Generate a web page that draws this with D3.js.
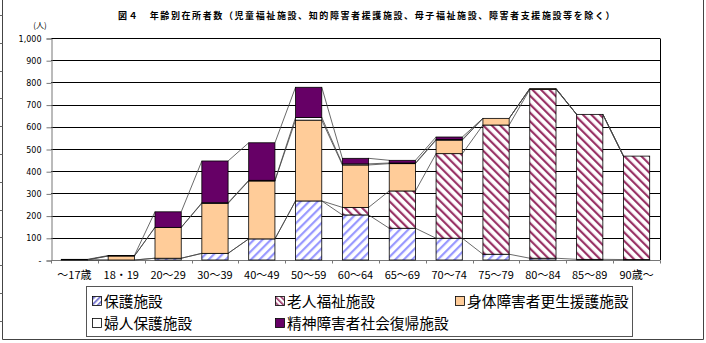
<!DOCTYPE html>
<html>
<head>
<meta charset="utf-8">
<script src="https://cdn.jsdelivr.net/npm/d3@7/dist/d3.min.js"></script>
<style>
  html, body { margin: 0; padding: 0; background: #fff; }
  svg { display: block; }
</style>
</head>
<body>
<script>
// Age groups and residents per facility type (persons)
const categories = ["～17歳","18・19","20～29","30～39","40～49","50～59","60～64","65～69","70～74","75～79","80～84","85～89","90歳～"];
const hogo    = [0, 0,   8,  30,  95, 266, 203, 143,  98,  26,   8,   3,   2];   // 保護施設
const roujin  = [0, 0,   0,   0,   0,   0,  34, 168, 381, 582, 760, 653, 466];   // 老人福祉施設
const shintai = [1, 18, 139, 225, 261, 364, 191, 123,  61,  30,   4,   0,   0];   // 身体障害者更生援護施設
const fujin   = [0, 0,   0,   3,   3,  12,   5,   3,   3,   0,   0,   0,   0];   // 婦人保護施設
const seishin = [2, 2,  70, 188, 169, 136,  25,  12,  11,   0,   0,   0,   0];   // 精神障害者社会復帰施設
const seriesNames = ["保護施設","老人福祉施設","身体障害者更生援護施設","婦人保護施設","精神障害者社会復帰施設"];
const yTicks = [0,100,200,300,400,500,600,700,800,900,1000];
const title = "図４　年齢別在所者数（児童福祉施設、知的障害者援護施設、母子福祉施設、障害者支援施設等を除く）";

const W = 706, H = 343;
const svg = d3.select("body").append("svg").attr("width", W).attr("height", H);

// hatch patterns
const defs = svg.append("defs");
function hatch(id, color, dir, size, lw) {
  const p = defs.append("pattern").attr("id", id).attr("patternUnits", "userSpaceOnUse")
    .attr("width", size).attr("height", size)
    .attr("patternTransform", `rotate(${dir})`);
  p.append("rect").attr("width", size).attr("height", size).attr("fill", "#fff");
  p.append("rect").attr("x", 0).attr("y", 0).attr("width", lw).attr("height", size).attr("fill", color);
}
hatch("hHogo", "#9999FF", 45, 6, 2.2);
hatch("hRoujin", "#993366", -45, 6, 2.2);
hatch("hHogoL", "#6666CC", 45, 4, 1.6);
hatch("hRoujinL", "#993366", -45, 4, 1.6);

const fills = ["url(#hHogo)", "url(#hRoujin)", "#FFCC99", "#FFFFFF", "#660066"];
const legendFills = ["url(#hHogoL)", "url(#hRoujinL)", "#FFCC99", "#FFFFFF", "#660066"];

// outer frame
const frame = svg.append("g");
frame.append("line").attr("x1", 2.5).attr("x2", 2.5).attr("y1", 0).attr("y2", 339.5).attr("stroke", "#444");
frame.append("line").attr("x1", 2.5).attr("x2", 703.5).attr("y1", 339.5).attr("y2", 339.5).attr("stroke", "#444");
frame.append("line").attr("x1", 703.5).attr("x2", 703.5).attr("y1", 0).attr("y2", 339.5).attr("stroke", "#444");
d3.range(15, 335, 27.8).forEach(v => {
  frame.append("line").attr("x1", 0).attr("x2", 2.5).attr("y1", Math.round(v) + 0.5).attr("y2", Math.round(v) + 0.5).attr("stroke", "#666");
});

const pLeft = 51, pRight = 660, pTop = 38, pBottom = 260;
const x = d3.scaleBand().domain(categories).range([pLeft, pRight]).paddingInner(0.44).paddingOuter(0.22);
const y = d3.scaleLinear().domain([0, 1000]).range([pBottom, pTop]);

// gridlines
svg.append("g").selectAll("line").data(yTicks.filter(d => d > 0)).join("line")
  .attr("x1", pLeft).attr("x2", pRight)
  .attr("y1", d => Math.round(y(d)) + 0.5).attr("y2", d => Math.round(y(d)) + 0.5)
  .attr("stroke", "#000").attr("stroke-width", 1);
svg.append("line").attr("x1", pRight + 0.5).attr("x2", pRight + 0.5).attr("y1", Math.round(y(1000)) + 0.5).attr("y2", pBottom)
  .attr("stroke", "#000");

// y axis
const yAxis = d3.axisLeft(y).tickValues(yTicks).tickSize(5)
  .tickFormat(d => d === 0 ? "-" : d3.format(",")(d));
const gy = svg.append("g").attr("transform", `translate(${pLeft + 0.5},0.5)`).call(yAxis);
gy.select(".domain").attr("stroke", "#777");
gy.selectAll(".tick line").attr("stroke", "#777");
gy.selectAll(".tick text").attr("x", -10).attr("font-family", "DejaVu Sans").attr("font-size", 8).attr("fill", "#000");

svg.append("text").attr("x", 40).attr("y", 28).attr("text-anchor", "middle")
  .attr("font-family", "Noto Sans CJK JP").attr("font-size", 8).text("(人)");

// x axis
const gx = svg.append("g").attr("transform", `translate(0,${pBottom + 0.5})`);
gx.append("line").attr("x1", pLeft).attr("x2", pRight + 0.5).attr("stroke", "#777");
const step = x.step();
d3.range(categories.length + 1).forEach(i => {
  const xx = Math.round(pLeft + i * step) + 0.5;
  gx.append("line").attr("x1", xx).attr("x2", xx).attr("y1", 0).attr("y2", 3).attr("stroke", "#777");
});
gx.selectAll("text").data(categories).join("text")
  .attr("x", d => x(d) + x.bandwidth() / 2).attr("y", 18)
  .attr("text-anchor", "middle").attr("font-family", "Noto Sans CJK JP").attr("font-size", 11)
  .text(d => d);

// stacked data
const rows = categories.map((c, i) => ({ cat: c, s0: hogo[i], s1: roujin[i], s2: shintai[i], s3: fujin[i], s4: seishin[i] }));
const stack = d3.stack().keys(["s0", "s1", "s2", "s3", "s4"])(rows);

// series lines joining stack boundaries
const lines = svg.append("g");
stack.forEach(layer => {
  for (let i = 0; i < categories.length - 1; i++) {
    lines.append("line")
      .attr("x1", x(categories[i]) + x.bandwidth()).attr("y1", y(layer[i][1]))
      .attr("x2", x(categories[i + 1])).attr("y2", y(layer[i + 1][1]))
      .attr("stroke", "#444").attr("stroke-width", 0.8);
  }
});

// bars
stack.forEach((layer, k) => {
  svg.append("g").selectAll("rect").data(layer.filter(d => d[1] - d[0] > 0)).join("rect")
    .attr("x", d => x(d.data.cat)).attr("width", x.bandwidth())
    .attr("y", d => y(d[1])).attr("height", d => y(d[0]) - y(d[1]))
    .attr("fill", fills[k]).attr("stroke", "#000").attr("stroke-width", 0.8);
});

// title
svg.append("text").attr("x", 367).attr("y", 19).attr("text-anchor", "middle")
  .attr("font-family", "Noto Sans CJK JP").attr("font-weight", "bold").attr("font-size", 9)
  .attr("letter-spacing", 1.6)
  .text(title);

// legend
const lg = svg.append("g");
lg.append("rect").attr("x", 86.5).attr("y", 286.5).attr("width", 546).attr("height", 50)
  .attr("fill", "#fff").attr("stroke", "#555");
const pos = [[92, 302], [275, 302], [455, 302], [92, 324], [275, 324]];
seriesNames.forEach((n, k) => {
  const [lx, ly] = pos[k];
  lg.append("rect").attr("x", lx + 0.5).attr("y", ly - 5.5).attr("width", 9).attr("height", 9)
    .attr("fill", legendFills[k]).attr("stroke", "#000").attr("stroke-width", 0.8);
  lg.append("text").attr("x", lx + 12).attr("y", ly + 5).attr("font-family", "Noto Sans CJK JP")
    .attr("font-size", 14.7).text(n);
});
</script>
</body>
</html>
